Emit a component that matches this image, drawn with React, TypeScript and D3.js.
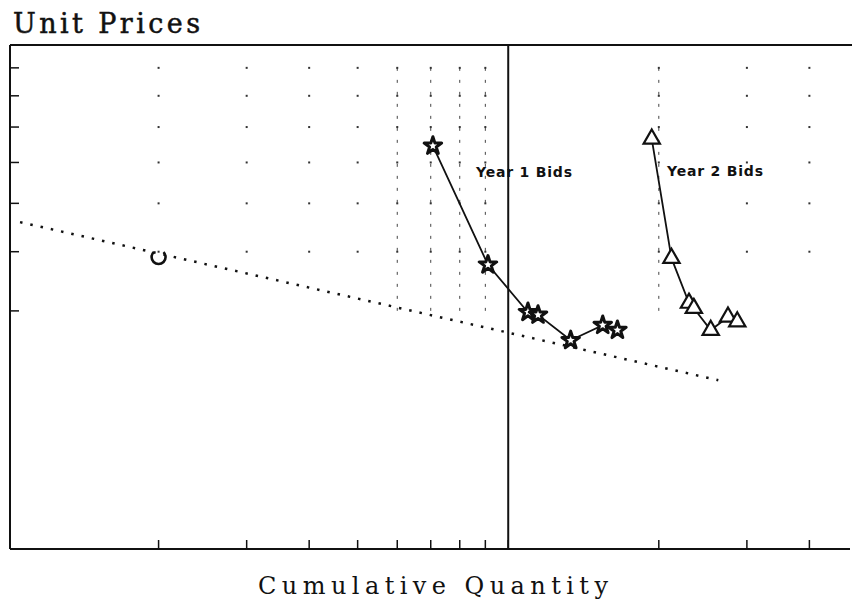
import * as d3 from "d3";

// quantity is on a log axis, price on a log axis (learning-curve chart)
const xTicks = [2, 3, 4, 5, 6, 7, 8, 9, 10, 20, 30, 40];
const yTicks = [4, 5, 6, 7, 8, 9, 10];
const gridDashCols = [6, 7, 8, 9, 20];

const year1Qty = [7.07, 9.11, 10.95, 11.47, 13.33, 15.45, 16.53];
const year1Price = [7.45, 4.76, 3.98, 3.94, 3.58, 3.79, 3.72];

const year2Qty = [19.36, 21.2, 22.98, 23.5, 25.4, 27.5, 28.7];
const year2Price = [7.65, 4.88, 4.12, 4.04, 3.72, 3.91, 3.84];

const firstUnitQty = [2.0];
const firstUnitPrice = [4.9];

const trendQty = [1.057, 26.3];
const trendPrice = [5.59, 3.08];

const boundaryQty = 10;

const W = 852;
const H = 608;
const left = 10;
const right = 850;
const top = 45;
const bottom = 549;

export default function App() {
  const x = d3.scaleLog().domain([1, 48]).range([8, 849]);
  const y = d3.scaleLog().domain([1.63, 10.9]).range([bottom, top]);

  const year1 = year1Qty.map((q, i) => [x(q), y(year1Price[i])] as [number, number]);
  const year2 = year2Qty.map((q, i) => [x(q), y(year2Price[i])] as [number, number]);
  const trend = trendQty.map((q, i) => [x(q), y(trendPrice[i])] as [number, number]);
  const line = d3.line();

  const star = d3.symbol(d3.symbolStar, 95)();
  const tri = d3.symbol(d3.symbolTriangle, 115)();
  const arc = d3.arc()({
    innerRadius: 7,
    outerRadius: 7,
    startAngle: Math.PI * 0.25,
    endAngle: Math.PI * 1.75,
  } as any);

  const ink = "#111";

  return (
    <svg
      width={W}
      height={H}
      viewBox={`0 0 ${W} ${H}`}
      style={{ position: "absolute", left: 0, top: 0, background: "#fff" }}
    >
      <rect width={W} height={H} fill="#fff" />

      {/* sparse dotted grid */}
      {gridDashCols.map((q) => (
        <line
          key={"gc" + q}
          x1={x(q)}
          x2={x(q)}
          y1={y(10)}
          y2={y(4)}
          stroke="#444"
          strokeWidth={1}
          strokeDasharray="3,9"
        />
      ))}
      {xTicks
        .filter((q) => q !== boundaryQty)
        .map((q) =>
          yTicks
            .filter((p) => p >= 5)
            .map((p) => (
              <rect
                key={`d${q}-${p}`}
                x={x(q) - 1}
                y={y(p) - 1}
                width={2}
                height={2}
                fill="#333"
              />
            ))
        )}

      {/* frame */}
      <line x1={left} x2={W} y1={top} y2={top} stroke={ink} strokeWidth={2} />
      <line x1={left} x2={right} y1={bottom} y2={bottom} stroke={ink} strokeWidth={2} />
      <line x1={left} x2={left} y1={top} y2={bottom} stroke={ink} strokeWidth={2} />

      {/* ticks, drawn inward */}
      {yTicks.map((p) => (
        <line key={"yt" + p} x1={left} x2={left + 9} y1={y(p)} y2={y(p)} stroke={ink} strokeWidth={1.5} />
      ))}
      {xTicks.map((q) => (
        <line key={"xt" + q} x1={x(q)} x2={x(q)} y1={bottom} y2={bottom - 9} stroke={ink} strokeWidth={1.5} />
      ))}

      {/* labels */}
      <text
        x={476}
        y={177}
        fontFamily="DejaVu Sans"
        fontWeight="bold"
        fontSize={14}
        textLength={96}
        lengthAdjust="spacing"
        fill={ink}
      >
        Year 1 Bids
      </text>
      <text
        x={667}
        y={176}
        fontFamily="DejaVu Sans"
        fontWeight="bold"
        fontSize={14}
        textLength={96}
        lengthAdjust="spacing"
        fill={ink}
      >
        Year 2 Bids
      </text>

      {/* year boundary */}
      <line x1={x(boundaryQty)} x2={x(boundaryQty)} y1={top} y2={bottom} stroke={ink} strokeWidth={2} />

      {/* learning-curve trend */}
      <path
        d={line(trend) || ""}
        fill="none"
        stroke={ink}
        strokeWidth={2.5}
        strokeDasharray="2.5,8"
      />

      {/* first unit */}
      {firstUnitQty.map((q, i) => (
        <path
          key={"c" + i}
          d={arc || ""}
          transform={`translate(${x(q)},${y(firstUnitPrice[i])})`}
          fill="none"
          stroke={ink}
          strokeWidth={2.6}
        />
      ))}

      {/* year 1 bids */}
      <path d={line(year1) || ""} fill="none" stroke={ink} strokeWidth={1.8} />
      {year1.map(([cx, cy], i) => (
        <path
          key={"s" + i}
          d={star || ""}
          transform={`translate(${cx},${cy})`}
          fill="#fff"
          stroke={ink}
          strokeWidth={3}
          strokeLinejoin="round"
        />
      ))}

      {/* year 2 bids */}
      <path d={line(year2) || ""} fill="none" stroke={ink} strokeWidth={1.8} />
      {year2.map(([cx, cy], i) => (
        <path
          key={"t" + i}
          d={tri || ""}
          transform={`translate(${cx},${cy})`}
          fill="#fff"
          stroke={ink}
          strokeWidth={2.2}
        />
      ))}

      {/* titles */}
      <text
        x={13}
        y={33}
        fontFamily="DejaVu Serif"
        fontSize={27}
        textLength={187}
        lengthAdjust="spacing"
        fill={ink}
        stroke={ink}
        strokeWidth={0.5}
      >
        Unit Prices
      </text>
      <text
        x={258}
        y={594}
        fontFamily="DejaVu Serif"
        fontSize={24}
        textLength={350}
        lengthAdjust="spacing"
        fill={ink}
      >
        Cumulative Quantity
      </text>
    </svg>
  );
}
